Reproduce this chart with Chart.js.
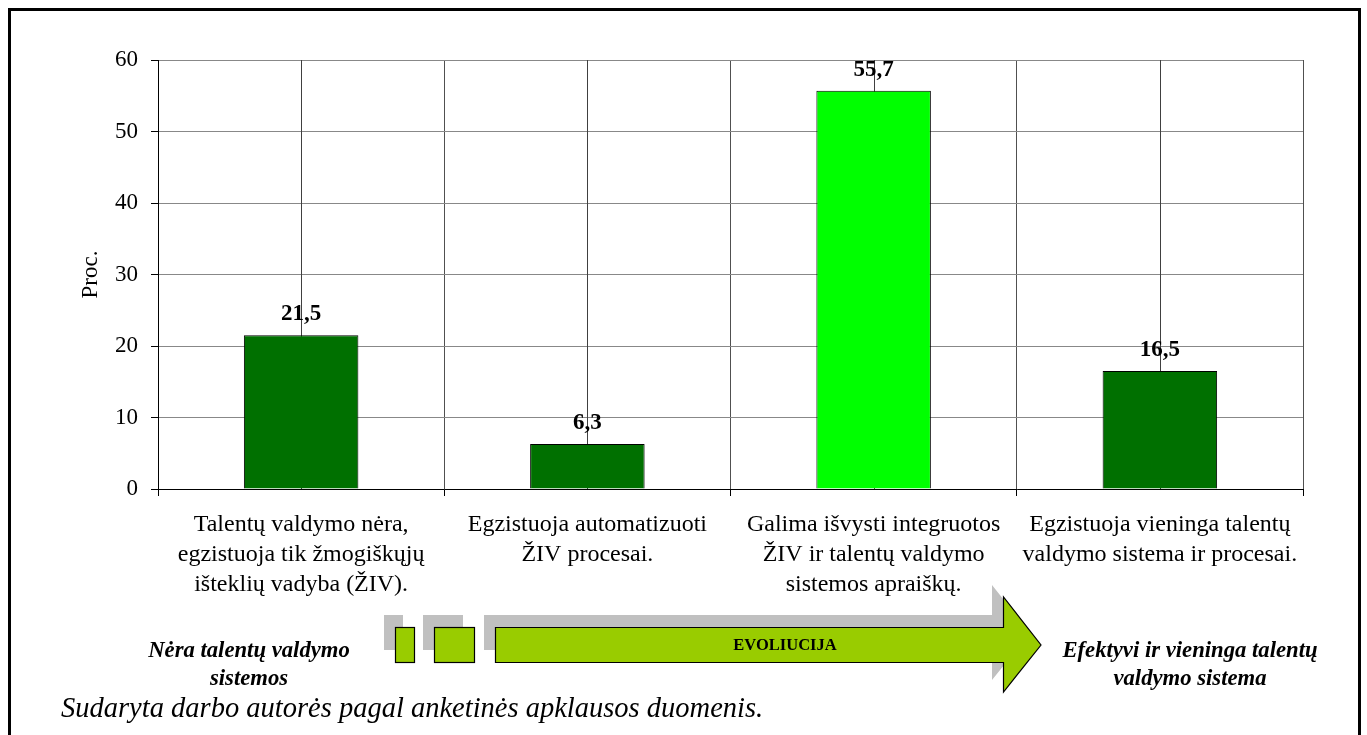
<!DOCTYPE html>
<html>
<head>
<meta charset="utf-8">
<script src="https://cdn.jsdelivr.net/npm/chart.js@4"></script>
<style>
  html, body { margin: 0; padding: 0; background: #fff; }
  #wrap { position: relative; width: 1367px; height: 735px; overflow: hidden; font-family: 'Liberation Serif', 'Times New Roman', serif; }
  #frame { position: absolute; left: 8px; top: 8px; width: 1347px; height: 760px; border: 3px solid #000; box-sizing: content-box; }
  #chart { position: absolute; left: 0; top: 0; }
  #evo { position: absolute; left: 0; top: 0; }
  .note { position: absolute; font-weight: bold; font-style: italic; font-size: 22.7px; line-height: 28px; text-align: center; color: #000; white-space: nowrap; }
  #footer { position: absolute; left: 61px; top: 692px; font-style: italic; font-size: 28.5px; line-height: 32px; color: #000; white-space: nowrap; }
</style>
</head>
<body>
<div id="wrap">
  <div id="frame"></div>
  <canvas id="chart" width="1367" height="735"></canvas>
  <svg id="evo" width="1367" height="735">
    <!-- drop shadows of the evolution arrow -->
    <g fill="#C0C0C0">
      <rect x="384" y="615" width="19" height="35"/>
      <rect x="423" y="615" width="40" height="35"/>
      <polygon points="484,615 992,615 992,585 1030,633 992,680 992,650 484,650"/>
    </g>
    <g fill="#99CC00" stroke="#000" stroke-width="1.2">
      <rect x="395.5" y="627.5" width="19" height="35"/>
      <rect x="434.5" y="627.5" width="40" height="35"/>
      <polygon points="495.5,627.5 1003.5,627.5 1003.5,597 1041,645 1003.5,692 1003.5,662.5 495.5,662.5"/>
    </g>
    <text x="785" y="650" text-anchor="middle" font-family="Liberation Serif" font-weight="bold" font-size="16.5">EVOLIUCIJA</text>
  </svg>
  <div class="note" style="left:109px; top:636px; width:280px;">Nėra talentų valdymo<br>sistemos</div>
  <div class="note" style="left:1050px; top:636px; width:280px;">Efektyvi ir vieninga talentų<br>valdymo sistema</div>
  <div id="footer">Sudaryta darbo autorės pagal anketinės apklausos duomenis.</div>
</div>
<script>
// Survey results: share of respondents (%) per talent-management stage
const categories = [
  ['Talentų valdymo nėra,', 'egzistuoja tik žmogiškųjų', 'išteklių vadyba (ŽIV).'],
  ['Egzistuoja automatizuoti', 'ŽIV procesai.'],
  ['Galima išvysti integruotos', 'ŽIV ir talentų valdymo', 'sistemos apraiškų.'],
  ['Egzistuoja vieninga talentų', 'valdymo sistema ir procesai.']
];
const shares = [21.5, 6.3, 55.7, 16.5];
const barColors = ['#007000', '#007000', '#00FF00', '#007000'];
const yTicks = [0, 10, 20, 30, 40, 50, 60];

Chart.defaults.font.family = "'Liberation Serif', 'Times New Roman', serif";
Chart.defaults.color = '#000';

// vertical lines through the middle of each category
const centerLines = {
  id: 'centerLines',
  beforeDatasetsDraw(chart) {
    const { ctx, chartArea, scales } = chart;
    ctx.save();
    ctx.strokeStyle = '#404040';
    ctx.lineWidth = 1;
    categories.forEach((_, i) => {
      const x = Math.round(scales.x.getPixelForValue(i)) + 0.5;
      ctx.beginPath();
      ctx.moveTo(x, chartArea.top);
      ctx.lineTo(x, chartArea.bottom);
      ctx.stroke();
    });
    ctx.restore();
  }
};

// value labels above bars, decimal comma
const valueLabels = {
  id: 'valueLabels',
  afterDatasetsDraw(chart) {
    const { ctx } = chart;
    const meta = chart.getDatasetMeta(0);
    ctx.save();
    ctx.font = "bold 23px 'Liberation Serif', serif";
    ctx.fillStyle = '#000';
    ctx.textAlign = 'center';
    ctx.textBaseline = 'alphabetic';
    meta.data.forEach((bar, i) => {
      ctx.fillText(String(shares[i]).replace('.', ','), bar.x, bar.y - 15);
    });
    ctx.restore();
  }
};

new Chart(document.getElementById('chart'), {
  type: 'bar',
  data: {
    labels: categories,
    datasets: [{
      data: shares,
      backgroundColor: barColors,
      borderColor: '#000',
      borderWidth: 1,
      barPercentage: 0.4,
      categoryPercentage: 1
    }]
  },
  options: {
    responsive: false,
    animation: false,
    devicePixelRatio: 1,
    layout: { padding: { left: 75, top: 60, right: 64, bottom: 0 } },
    plugins: { legend: { display: false }, tooltip: { enabled: false } },
    scales: {
      x: {
        offset: true,
        grid: {
          offset: true,
          color: (c) => (c.index === categories.length ? '#909090' : '#505050'),
          tickColor: '#000',
          tickLength: 7,
          lineWidth: 1
        },
        border: { color: '#000', width: 1 },
        ticks: { font: { size: 24, lineHeight: 1.25 }, padding: 14, maxRotation: 0, autoSkip: false },
        afterFit(scale) { scale.height = 735 - 489; }
      },
      y: {
        min: 0,
        max: 60,
        afterBuildTicks(scale) { scale.ticks = yTicks.map(v => ({ value: v })); },
        grid: { color: '#888888', tickColor: '#000', tickLength: 7, lineWidth: 1 },
        border: { color: '#000', width: 1 },
        ticks: { font: { size: 23 }, padding: 13 },
        title: { display: true, text: 'Proc.', font: { size: 23 }, padding: { top: 2, bottom: 0 } },
        afterFit(scale) { scale.width = 158 - 75; }
      }
    }
  },
  plugins: [centerLines, valueLabels]
});
</script>
</body>
</html>
